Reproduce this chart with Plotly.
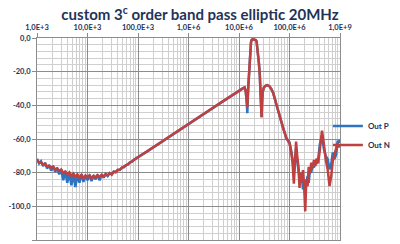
import plotly.graph_objects as go

# ---- data ----
freq_hz = [
    1.00e3, 1.10e3, 1.20e3, 1.32e3, 1.45e3, 1.58e3, 1.74e3, 1.91e3, 2.09e3, 2.29e3,
    2.51e3, 2.75e3, 3.02e3, 3.31e3, 3.63e3, 3.98e3, 4.37e3, 4.79e3, 5.25e3, 5.75e3,
    6.31e3, 6.92e3, 7.59e3, 8.32e3, 9.12e3, 10.0e3, 11.0e3, 12.0e3, 13.2e3, 14.5e3,
    15.8e3, 17.4e3, 19.1e3, 20.9e3, 22.9e3, 25.1e3, 27.5e3, 30.2e3, 33.1e3, 36.3e3,
    39.8e3, 43.7e3, 47.9e3, 52.5e3, 57.5e3, 63.1e3, 69.2e3, 75.9e3, 83.2e3, 91.2e3,
    100e3,
    150e3, 200e3, 300e3, 500e3, 700e3, 1.0e6, 1.5e6, 2.0e6, 3.0e6, 5.0e6, 7.0e6,
    10.0e6, 11.0e6, 12.0e6, 12.9e6, 13.6e6, 14.2e6, 14.6e6, 15.2e6, 15.8e6, 16.3e6,
    16.8e6, 17.3e6, 17.8e6, 18.5e6, 19.5e6, 20.5e6, 21.5e6, 22.3e6, 23.0e6, 23.8e6,
    24.8e6, 25.8e6, 26.8e6, 27.5e6, 28.0e6, 28.6e6, 29.5e6, 31.0e6, 33.0e6, 36.0e6,
    40.0e6, 44.0e6, 48.0e6, 55.0e6, 64.0e6, 75.0e6, 87.0e6,
    1.00e8, 1.08e8, 1.15e8, 1.22e8, 1.28e8, 1.35e8, 1.42e8, 1.50e8, 1.58e8, 1.66e8,
    1.75e8, 1.85e8, 1.95e8, 2.05e8, 2.15e8, 2.28e8, 2.40e8, 2.55e8, 2.70e8, 2.85e8,
    3.05e8, 3.25e8, 3.45e8, 3.70e8, 4.00e8, 4.40e8, 4.80e8, 5.20e8, 5.70e8, 6.20e8,
    6.70e8, 7.20e8, 7.80e8, 8.40e8, 9.00e8, 9.50e8, 1.00e9,
]

out_p_db = [
    -71.8, -74.5, -73.2, -76.0, -74.2, -77.5, -75.5, -78.8, -76.0, -79.5,
    -77.2, -81.0, -78.0, -84.5, -79.0, -86.0, -80.0, -87.5, -80.5, -88.5,
    -81.2, -86.0, -81.0, -85.5, -81.8, -84.5, -81.3, -85.0, -81.6, -84.0,
    -81.2, -84.5, -81.0, -83.0, -80.7, -82.0, -80.2, -81.2, -79.3, -79.8,
    -78.3, -78.4, -77.0, -76.8, -75.6, -75.1, -73.9, -73.4, -72.3, -71.7,
    -70.8,
    -67.5, -65.0, -61.5, -57.0, -54.2, -51.0, -47.6, -45.1, -41.6, -37.2, -34.3,
    -31.2, -30.4, -29.8, -29.4, -31.8, -37.5, -44.7, -30.0, -20.0, -12.0,
    -6.0, -2.5, -1.2, -0.8, -0.9, -1.0, -1.2, -2.0, -5.0, -9.5,
    -15.0, -22.0, -31.0, -40.0, -47.0, -38.0, -32.0, -29.5, -28.5, -28.0,
    -28.6, -30.5, -33.0, -39.5, -46.8, -53.5, -59.6,
    -62.0, -67.0, -72.0, -80.0, -74.0, -66.0, -73.0, -79.0, -83.0, -86.0,
    -80.0, -90.0, -85.0, -91.0, -87.0, -82.0, -86.0, -78.0, -80.0, -75.0,
    -77.0, -73.0, -74.0, -72.0, -63.0, -58.0, -66.0, -70.0, -72.0, -78.0,
    -75.0, -68.0, -72.0, -69.0, -61.0, -62.0, -60.5,
]

out_n_db = [
    -72.5, -74.0, -73.8, -75.2, -74.6, -76.3, -75.8, -77.0, -76.4, -78.2,
    -77.5, -79.0, -78.1, -80.2, -79.3, -81.0, -79.8, -82.0, -80.6, -82.5,
    -81.0, -83.0, -81.4, -83.2, -81.6, -82.8, -81.5, -83.3, -81.8, -82.9,
    -81.4, -82.6, -81.2, -82.3, -80.9, -81.6, -80.3, -80.8, -79.5, -79.6,
    -78.4, -78.2, -77.1, -76.6, -75.7, -75.0, -74.0, -73.3, -72.4, -71.6,
    -70.8,
    -67.5, -65.0, -61.5, -57.0, -54.2, -51.0, -47.6, -45.1, -41.6, -37.2, -34.3,
    -31.2, -30.4, -29.8, -29.4, -31.5, -36.5, -41.0, -30.0, -20.0, -12.0,
    -6.0, -2.5, -1.2, -0.8, -0.9, -1.0, -1.2, -2.0, -5.0, -9.5,
    -15.0, -22.0, -31.0, -40.0, -47.0, -38.0, -32.0, -29.5, -28.5, -28.0,
    -28.6, -30.5, -33.0, -39.5, -46.8, -53.5, -59.6,
    -62.6, -68.0, -74.0, -86.5, -72.0, -61.6, -70.0, -76.0, -89.0, -80.0,
    -85.5, -78.5, -88.3, -103.0, -84.0, -88.0, -76.5, -80.5, -74.0, -77.5,
    -72.5, -76.0, -71.5, -74.5, -66.0, -55.0, -63.0, -72.0, -78.0, -88.0,
    -82.0, -73.0, -69.0, -66.0, -62.5, -65.0, -63.0,
]

x_tick_vals = [1e3, 1e4, 1e5, 1e6, 1e7, 1e8, 1e9]
x_tick_text = ["1,0E+3", "10,0E+3", "100,0E+3", "1,0E+6", "10,0E+6", "100,0E+6", "1,0E+9"]
y_tick_vals = [0, -20, -40, -60, -80, -100, -120]
y_tick_text = ["0,0", "-20,0", "-40,0", "-60,0", "-80,0", "-100,0", "-120,0"]

title_text = "custom 3<sup>c</sup> order band pass elliptic 20MHz"

# ---- style ----
TXT = "#1F3358"
MAJ = "#8C8C8C"
MIN = "#CFCFCF"
FONT = "Lato, 'Open Sans', sans-serif"

fig = go.Figure()
fig.add_trace(go.Scatter(x=freq_hz, y=out_p_db, name="Out P", mode="lines",
                         line=dict(color="#2E74C0", width=2.5)))
fig.add_trace(go.Scatter(x=freq_hz, y=out_n_db, name="Out N", mode="lines",
                         line=dict(color="#C0403F", width=2.5)))

fig.update_layout(
    width=400, height=244,
    margin=dict(l=37, r=48, t=38, b=4),
    paper_bgcolor="white", plot_bgcolor="white",
    title=dict(text=title_text, x=0.5, xanchor="center", y=0.94, yanchor="middle",
               font=dict(family=FONT, size=15, color=TXT, weight="bold")),
    font=dict(family=FONT, color=TXT),
    legend=dict(x=0.96, xanchor="left", y=0.517, yanchor="middle",
                bgcolor="rgba(0,0,0,0)", borderwidth=0,
                font=dict(family=FONT, size=8, color=TXT, weight="bold"),
                tracegroupgap=0, itemwidth=30),
    showlegend=True,
)

fig.update_xaxes(
    type="log", range=[3, 9], side="top",
    tickvals=x_tick_vals, ticktext=x_tick_text,
    tickfont=dict(family=FONT, size=7.5, color=TXT, weight="bold"),
    ticks="outside", ticklen=4, tickcolor=MAJ,
    showgrid=True, gridcolor=MAJ, gridwidth=1,
    minor=dict(showgrid=True, gridcolor=MIN, gridwidth=1, dtick="D1"),
    showline=True, linecolor=MAJ, mirror=True, zeroline=False,
)
fig.update_yaxes(
    range=[-120, 0],
    tickvals=y_tick_vals, ticktext=y_tick_text,
    tickfont=dict(family=FONT, size=7.5, color=TXT, weight="bold"),
    ticks="outside", ticklen=4, tickcolor=MAJ,
    showgrid=True, gridcolor=MAJ, gridwidth=1,
    minor=dict(showgrid=True, gridcolor=MIN, gridwidth=1, dtick=4),
    showline=True, linecolor=MAJ, mirror=True, zeroline=False,
)

fig.write_html("out.html")
